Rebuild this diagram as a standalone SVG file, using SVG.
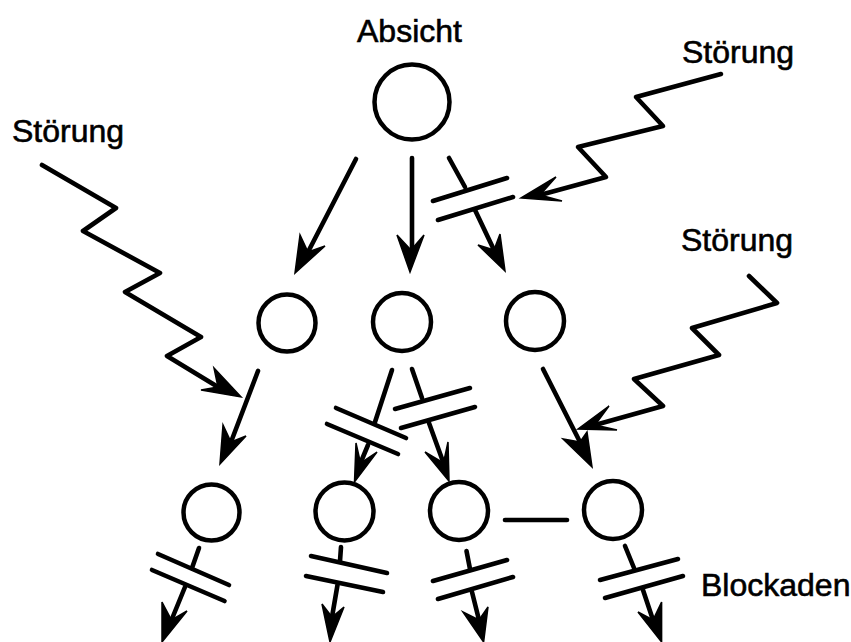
<svg xmlns="http://www.w3.org/2000/svg" width="851" height="642" viewBox="0 0 851 642">
<style>
.n{fill:none;stroke:#000;stroke-width:4.500}
.l{fill:none;stroke:#000;stroke-width:4.600;stroke-linecap:round;stroke-linejoin:round}
.h{fill:#000;stroke:#000;stroke-width:1.500;stroke-linejoin:miter}
text{font-family:"Liberation Sans",Arial,sans-serif;font-size:32px;fill:#000;stroke:#000;stroke-width:.6}
</style>
<rect width="851" height="642" fill="#fff"/>
<g id="node-absicht"><circle class="n" cx="412" cy="102" r="37.500"/><text x="357" y="42">Absicht</text></g>
<g id="node-m1"><circle class="n" cx="287" cy="323" r="28.500"/></g>
<g id="node-m2"><circle class="n" cx="402" cy="322" r="29"/></g>
<g id="node-m3"><circle class="n" cx="535" cy="321" r="29"/></g>
<g id="node-b1"><circle class="n" cx="211.500" cy="512.500" r="28"/></g>
<g id="node-b2"><circle class="n" cx="344.500" cy="511.500" r="29"/></g>
<g id="node-b3"><circle class="n" cx="459" cy="511" r="29"/></g>
<g id="node-b4"><circle class="n" cx="613" cy="510" r="29"/></g>
<g id="label-stoerung-1"><text x="682" y="63">Störung</text></g>
<g id="label-stoerung-2"><text x="681" y="251">Störung</text></g>
<g id="label-stoerung-3"><text x="12" y="142">Störung</text></g>
<g id="label-blockaden"><text x="701" y="596">Blockaden</text></g>
<g id="connectors">
<path class="l" d="M356 159L308 252"/><polygon class="h" points="300,235 295,273 325,246 308,252"/>
<path class="l" d="M412 158V250"/><polygon class="h" points="397,235 410,272 424,235 411,250"/>
<path class="l" d="M449 158L465 187M475 210L494 250"/><polygon class="h" points="478,245 505,271 500,234 494,250"/>
<path class="l" d="M433 201L507 178M438 220L513 197"/>
<path class="l" d="M721 74L636 97L663 126L578 147L606 177L540 195"/><polygon class="h" points="556,177 521,198 562,201 540,195"/>
<path class="l" d="M42 165L116 208L83 231L160 273L125 292L201 337L167 356L218 387"/><polygon class="h" points="214,368 241,397 201,390 218,387"/>
<path class="l" d="M749 276L777 303L692 328L719 355L634 379L663 406L595 425"/><polygon class="h" points="609,406 578,429 617,430 595,425"/>
<path class="l" d="M258 371L231 442"/><polygon class="h" points="223,425 220,464 246,436 231,442"/>
<path class="l" d="M392 370L375 422M368 445L360.500 463"/><polygon class="h" points="356,443 354.500,482 377,452 360.500,463"/>
<path class="l" d="M336 408L406 438M327 424L398 454"/>
<path class="l" d="M412 369L422 398M429 423L443.500 463"/><polygon class="h" points="425,452 449,481 448,442 443.500,463"/>
<path class="l" d="M395 409L470 388M401 428L475 407"/>
<path class="l" d="M543 369L580 442"/><polygon class="h" points="563,439 592,467 587,432 580,442"/>
<path class="l" d="M505 520H567"/>
<path class="l" d="M199 548L192 568M185 587L171.500 620"/><polygon class="h" points="162,602 162,642 187,611 171.500,620"/>
<path class="l" d="M158 554L229 585M152 570L224.500 601"/>
<path class="l" d="M341 547L340 561M337.500 585L332 617"/><polygon class="h" points="322,604 330,642 344,607 332,617"/>
<path class="l" d="M311 556L387 573M306 576L383 592"/>
<path class="l" d="M466.500 551L470 569M472 592L479 620"/><polygon class="h" points="463,612 483.600,642 488,607 479,620"/>
<path class="l" d="M433 581L507 560M438 599L513 577"/>
<path class="l" d="M625 546L634 568M643 590L653 620"/><polygon class="h" points="638,612 661.600,642 661.600,602 653,620"/>
<path class="l" d="M600 580L678 559M605 598L683 576"/>
</g>
</svg>
